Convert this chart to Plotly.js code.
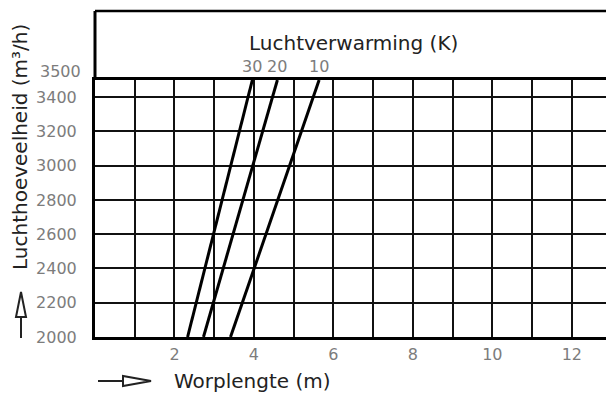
<!DOCTYPE html>
<html>
<head>
<meta charset="utf-8">
<script src="https://cdn.plot.ly/plotly-3.0.1.min.js"></script>
<style>html,body{margin:0;padding:0;background:#fff;}#chart{width:606px;height:396px;}</style>
</head>
<body>
<div id="chart"></div>
<script>
// Air volume (m3/h) at the ends of each line
const airVolume = [2000, 3500];
// Throw length (m) for each air-heating level (K)
const heatingLevels = ['30', '20', '10'];
const throw30 = [2.33, 3.96];
const throw20 = [2.73, 4.59];
const throw10 = [3.41, 5.64];
// Tick labels
const xTickVals = [2, 4, 6, 8, 10, 12];
const yTickVals = [2000, 2200, 2400, 2600, 2800, 3000, 3200, 3400];
const yTopTick = 3500;

const W = 606, H = 396;
const M = {l: 95, r: 0, t: 80, b: 59};
const PW = W - M.l - M.r, PH = H - M.t - M.b;
const px2x = p => (p - M.l) / PW;          // pixel x -> paper x
const px2y = p => (H - M.b - p) / PH;      // pixel y -> paper y

const seriesX = [throw30, throw20, throw10];
const traces = seriesX.map((xs, i) => ({
  type: 'scatter', mode: 'lines', x: xs, y: airVolume,
  line: {color: '#000', width: 3}, name: heatingLevels[i],
  hoverinfo: 'skip', showlegend: false, cliponaxis: false
}));

const tickFont = {family: '"DejaVu Sans", sans-serif', size: 16, color: '#7c7c7c'};
const textFont = {family: '"DejaVu Sans", sans-serif', size: 20, color: '#222'};

const annotations = seriesX.map((xs, i) => ({
  x: xs[xs.length - 1], y: airVolume[airVolume.length - 1], xref: 'x', yref: 'y',
  text: heatingLevels[i], showarrow: false, yanchor: 'bottom', yshift: 2,
  font: tickFont
}));
annotations.push({
  x: 0, y: yTopTick, xref: 'paper', yref: 'y', text: String(yTopTick),
  showarrow: false, xanchor: 'right', xshift: -12, yshift: 9, font: tickFont
});
annotations.push({
  x: px2x(353), y: px2y(43), xref: 'paper', yref: 'paper', text: 'Luchtverwarming (K)',
  showarrow: false, xanchor: 'center', yanchor: 'middle', font: textFont
});
annotations.push({
  x: px2x(20), y: px2y(147), xref: 'paper', yref: 'paper', text: 'Luchthoeveelheid (m³/h)',
  textangle: -90, showarrow: false, xanchor: 'center', yanchor: 'middle', font: textFont
});
annotations.push({
  x: px2x(172), y: px2y(381), xref: 'paper', yref: 'paper', text: 'Worplengte (m)',
  showarrow: false, xanchor: 'left', yanchor: 'middle', font: textFont
});

const shapes = [
  // frame: left border extension and top border of header
  {type: 'line', xref: 'paper', yref: 'paper', x0: 0, x1: 0, y0: 1, y1: px2y(11),
   line: {color: '#000', width: 3}},
  {type: 'line', xref: 'paper', yref: 'paper', x0: 0, x1: 1, y0: px2y(11), y1: px2y(11),
   line: {color: '#000', width: 2.5}},
  // up arrow (y-axis direction)
  {type: 'path', xref: 'paper', yref: 'paper', xsizemode: 'pixel', ysizemode: 'pixel',
   xanchor: px2x(21), yanchor: px2y(338),
   path: 'M0,0 L0,20', line: {color: '#222', width: 2}},
  {type: 'path', xref: 'paper', yref: 'paper', xsizemode: 'pixel', ysizemode: 'pixel',
   xanchor: px2x(21), yanchor: px2y(338),
   path: 'M-5,21 L5,21 L0,46 Z', line: {color: '#222', width: 2}, fillcolor: '#fff'},
  // right arrow (x-axis direction)
  {type: 'path', xref: 'paper', yref: 'paper', xsizemode: 'pixel', ysizemode: 'pixel',
   xanchor: px2x(98), yanchor: px2y(381),
   path: 'M0,0 L25,0', line: {color: '#222', width: 2}},
  {type: 'path', xref: 'paper', yref: 'paper', xsizemode: 'pixel', ysizemode: 'pixel',
   xanchor: px2x(98), yanchor: px2y(381),
   path: 'M25,-5 L25,5 L53,0 Z', line: {color: '#222', width: 2}, fillcolor: '#fff'}
];

const layout = {
  width: W, height: H, margin: M, paper_bgcolor: '#fff', plot_bgcolor: '#fff',
  showlegend: false,
  xaxis: {
    range: [0, 12.86], tickvals: xTickVals, ticktext: xTickVals.map(String),
    showgrid: true, gridcolor: '#111', gridwidth: 2,
    minor: {tick0: 0, dtick: 1, showgrid: true, gridcolor: '#111', gridwidth: 2},
    zeroline: false, showline: true, mirror: true, linecolor: '#000', linewidth: 3,
    ticks: '', tickfont: tickFont, ticklabelstandoff: 1, fixedrange: true
  },
  yaxis: {
    range: [2000, 3500], tickvals: yTickVals, ticktext: yTickVals.map(String),
    showgrid: true, gridcolor: '#111', gridwidth: 2,
    zeroline: false, showline: true, linecolor: '#000', linewidth: 3,
    ticks: '', tickfont: tickFont, ticklabelstandoff: 12, fixedrange: true
  },
  annotations: annotations,
  shapes: shapes
};

Plotly.newPlot('chart', traces, layout, {staticPlot: true, displayModeBar: false});
</script>
</body>
</html>
